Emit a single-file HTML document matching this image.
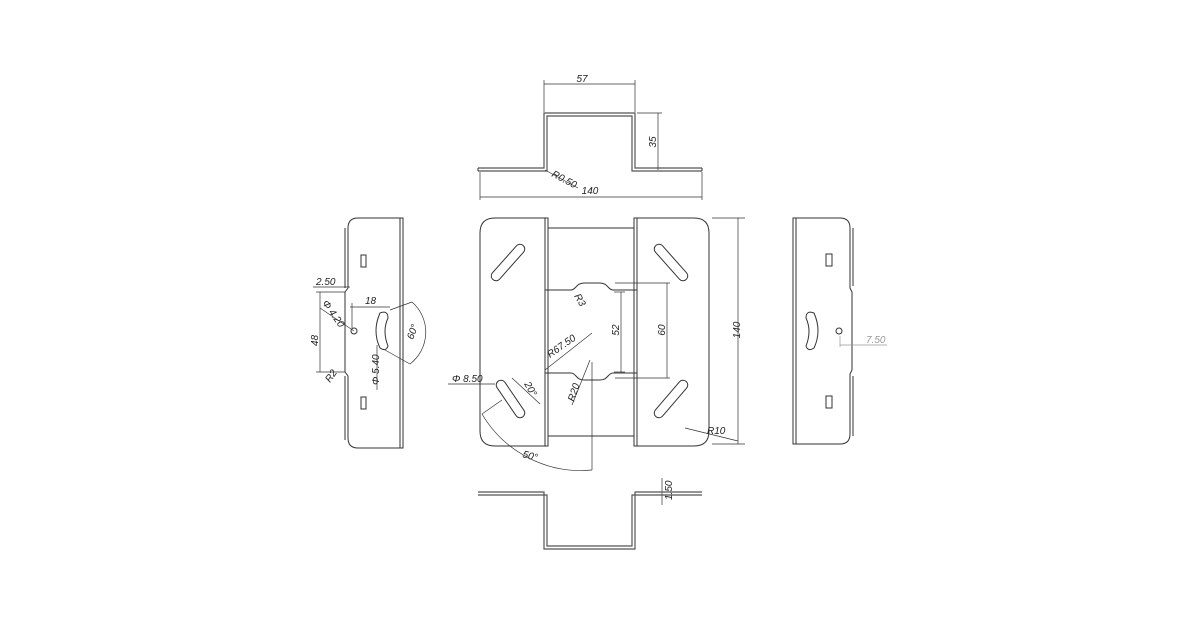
<!DOCTYPE html>
<html><head><meta charset="utf-8"><style>
html,body{margin:0;padding:0;background:#fff;}
svg{display:block;}
text{font-family:"Liberation Sans",sans-serif;font-style:italic;font-size:10px;fill:#222;}
</style></head><body>
<svg width="1200" height="630" viewBox="0 0 1200 630" xmlns="http://www.w3.org/2000/svg">
<g fill="none" stroke="#333" stroke-width="1">
<!-- TOP VIEW -->
<path d="M478 168 H544 V113 H635 V168 H702 M478 171 H547 V116 H632 V171 H702" stroke="#555" stroke-width="1.2"/>
<line x1="478" y1="168" x2="478" y2="171"/><line x1="702" y1="168" x2="702" y2="171"/>
<g stroke-width="0.7">
<line x1="544" y1="84" x2="635" y2="84"/><line x1="544" y1="80" x2="544" y2="112"/><line x1="635" y1="80" x2="635" y2="112"/>
<line x1="658" y1="113" x2="658" y2="170"/><line x1="637" y1="113" x2="662" y2="113"/>
<line x1="480" y1="197" x2="702" y2="197"/><line x1="480" y1="172" x2="480" y2="200"/><line x1="702" y1="172" x2="702" y2="200"/>
<line x1="545" y1="170" x2="578" y2="188"/>
</g>
<!-- FRONT VIEW -->
<path d="M548 218 H495 Q480 218 480 233 V431 Q480 446 495 446 H548 Z"/>
<path d="M634 218 H694 Q709 218 709 233 V431 Q709 446 694 446 H634 Z"/>
<line x1="545" y1="218" x2="545" y2="446"/><line x1="637" y1="218" x2="637" y2="446"/>
<line x1="548" y1="228" x2="634" y2="228"/><line x1="548" y1="436" x2="634" y2="436"/>
<path d="M545 290 H571 C576 290 576 283 584 283 H600 C608 283 608 290 613 290 H637"/>
<path d="M545 373 H571 C576 373 576 380 584 380 H600 C608 380 608 373 613 373 H637"/>
<g stroke-linecap="round" stroke-width="10.5"><line x1="496" y1="276" x2="520" y2="249"/><line x1="501" y1="385" x2="520" y2="413"/><line x1="659" y1="249" x2="683" y2="276"/><line x1="683" y1="385" x2="659" y2="413"/></g>
<g stroke-linecap="round" stroke-width="8.5" stroke="#fff"><line x1="496" y1="276" x2="520" y2="249"/><line x1="501" y1="385" x2="520" y2="413"/><line x1="659" y1="249" x2="683" y2="276"/><line x1="683" y1="385" x2="659" y2="413"/></g>
<g stroke-width="0.7">
<line x1="738" y1="218" x2="738" y2="444"/><line x1="712" y1="218" x2="745" y2="218"/><line x1="712" y1="444" x2="745" y2="444"/>
<line x1="621" y1="292" x2="621" y2="372"/><line x1="614" y1="292" x2="625" y2="292"/><line x1="614" y1="372" x2="625" y2="372"/>
<line x1="667" y1="283" x2="667" y2="378"/><line x1="615" y1="283" x2="670" y2="283"/><line x1="615" y1="378" x2="670" y2="378"/>
<line x1="545" y1="370" x2="592" y2="333"/><line x1="590" y1="360" x2="572" y2="405"/>
<line x1="592" y1="362" x2="592" y2="470"/>
<path d="M482 414 A115 115 0 0 0 592 470"/><line x1="482" y1="414" x2="502" y2="400"/>
<line x1="448" y1="384" x2="495" y2="384"/>
<line x1="512" y1="378" x2="540" y2="404"/>
<line x1="685" y1="428" x2="738" y2="441"/>
<line x1="662" y1="478" x2="662" y2="505"/>
</g>
<!-- BOTTOM VIEW -->
<path d="M478 492 H544 V549 H635 V492 H702 M478 495 H547 V546 H632 V495 H702" stroke="#555" stroke-width="1.2"/>
<!-- LEFT SIDE VIEW -->
<path d="M403 218 H358 Q348 218 348 228 V288 L345 292 V372 L348 376 V438 Q348 448 358 448 H403 Z"/>
<line x1="400" y1="218" x2="400" y2="448"/>
<line x1="345" y1="228" x2="345" y2="288"/><line x1="345" y1="376" x2="345" y2="440"/>
<rect x="361" y="255" width="5" height="12"/><rect x="361" y="397" width="5" height="12"/>
<path d="M380 313 Q388 310 388 318 Q382 331 388 346 Q386 352 380 348 Q372 331 380 313 Z"/>
<circle cx="354" cy="331" r="3"/>
<g stroke-width="0.7">
<line x1="320" y1="292" x2="320" y2="372"/><line x1="316" y1="292" x2="345" y2="292"/><line x1="316" y1="372" x2="345" y2="372"/>
<line x1="313" y1="287" x2="350" y2="287"/>
<line x1="350" y1="307" x2="390" y2="307"/><line x1="352" y1="303" x2="352" y2="328"/>
<line x1="320" y1="308" x2="354" y2="331"/>
<line x1="390" y1="310" x2="412" y2="302"/><line x1="385" y1="350" x2="410" y2="364"/>
<path d="M412 302 A40 40 0 0 1 410 364"/>
<line x1="377" y1="345" x2="377" y2="390"/>
</g>
<!-- RIGHT SIDE VIEW -->
<path d="M793 218 H840 Q850 218 850 228 V288 L852 292 V370 L850 374 V434 Q850 444 840 444 H793 Z"/>
<line x1="796" y1="218" x2="796" y2="444"/>
<line x1="853" y1="228" x2="853" y2="286"/><line x1="853" y1="376" x2="853" y2="436"/>
<rect x="826" y="254" width="6" height="12"/><rect x="826" y="396" width="6" height="12"/>
<path d="M814 313 Q806 310 806 318 Q812 331 806 346 Q808 352 814 348 Q822 331 814 313 Z"/>
<circle cx="839" cy="331" r="3"/>
<line x1="840" y1="345" x2="887" y2="345" stroke="#999" stroke-width="0.7"/><line x1="840" y1="336" x2="840" y2="347" stroke="#999" stroke-width="0.7"/>
</g>
<text x="582" y="82" text-anchor="middle">57</text>
<text transform="translate(656,142) rotate(-90)" text-anchor="middle">35</text>
<text x="590" y="194" text-anchor="middle">140</text>
<text transform="translate(551,176) rotate(28)" font-size="9">R0.50</text>
<text transform="translate(740,330) rotate(-90)" text-anchor="middle">140</text>
<text transform="translate(619,330) rotate(-90)" text-anchor="middle">52</text>
<text transform="translate(665,330) rotate(-90)" text-anchor="middle">60</text>
<text transform="translate(574,296) rotate(60)">R3</text>
<text transform="translate(550,358) rotate(-35)">R67.50</text>
<text transform="translate(574,402) rotate(-72)">R20</text>
<text transform="translate(524,384) rotate(60)">20°</text>
<text x="452" y="382">Φ 8.50</text>
<text transform="translate(522,457) rotate(15)">50°</text>
<text x="707" y="434">R10</text>
<text transform="translate(672,500) rotate(-90)">1.50</text>
<text x="316" y="285">2.50</text>
<text x="365" y="304">18</text>
<text transform="translate(318,346) rotate(-90)">48</text>
<text transform="translate(322,303) rotate(55)">Φ 4.20</text>
<text transform="translate(379,385) rotate(-90)">Φ 5.40</text>
<text transform="translate(330,383) rotate(-55)">R2</text>
<text transform="translate(413,340) rotate(-70)">60°</text>
<text x="866" y="343" fill="#999" style="fill:#999">7.50</text>
</svg>
</body></html>
